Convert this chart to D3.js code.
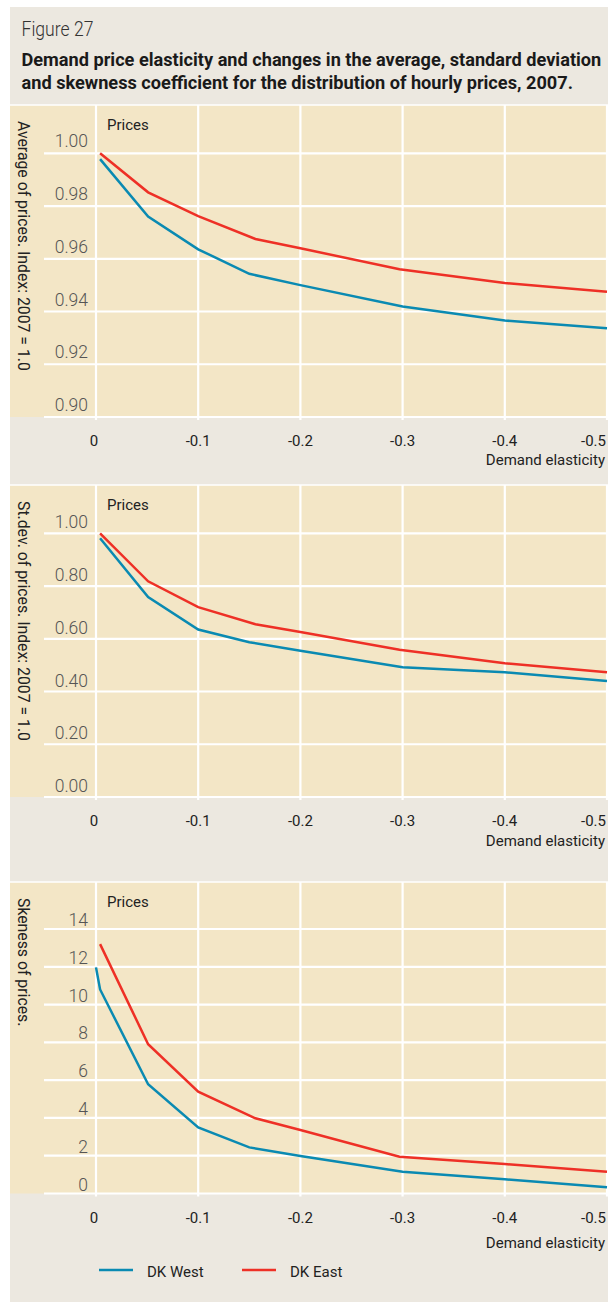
<!DOCTYPE html>
<html>
<head>
<meta charset="utf-8">
<script src="https://cdn.jsdelivr.net/npm/d3@7"></script>
<style>
  body { margin: 0; background: #fff; }
  svg { display: block; font-family: Roboto, "Open Sans", sans-serif; }
</style>
</head>
<body>
<svg id="chart" width="608" height="1302"></svg>
<script>
// demand elasticity (x) for each series
const xWest = [0, -0.004, -0.051, -0.1, -0.15, -0.2, -0.3, -0.4, -0.5]
const xEast = [-0.004, -0.051, -0.1, -0.156, -0.2, -0.297, -0.4, -0.5]

// panel 1: average of prices (index 2007 = 1.0)
const avgWest = [null, 0.9978, 0.976, 0.9636, 0.9543, 0.950, 0.9419, 0.9366, 0.9337]
const avgEast = [1.000, 0.9852, 0.9762, 0.9675, 0.964, 0.956, 0.9508, 0.9475]
// panel 2: st.dev. of prices (index 2007 = 1.0)
const sdWest = [null, 0.981, 0.758, 0.635, 0.587, 0.555, 0.492, 0.473, 0.44]
const sdEast = [1.00, 0.818, 0.72, 0.655, 0.626, 0.558, 0.507, 0.473]
// panel 3: skewness of prices
const skWest = [11.97, 10.8, 5.78, 3.5, 2.44, 1.98, 1.15, 0.75, 0.33]
const skEast = [13.2, 7.9, 5.39, 3.98, 3.36, 1.95, 1.56, 1.15]

const xTicks = [0, -0.1, -0.2, -0.3, -0.4, -0.5]
const xTickLabels = ['0', '-0.1', '-0.2', '-0.3', '-0.4', '-0.5']
const avgTicks = [0.90, 0.92, 0.94, 0.96, 0.98, 1.00]
const sdTicks = [0, 0.2, 0.4, 0.6, 0.8, 1.0]
const skTicks = [0, 2, 4, 6, 8, 10, 12, 14]

const seriesNames = ['DK West', 'DK East']
const colors = { west: '#0a8ab2', east: '#ee3026' }

const panels = [
  { top: 105, bottom: 417, yMax: 153.3, domain: [0.90, 1.00], ticks: avgTicks, fmt: d3.format('.2f'),
    title: 'Average of prices. Index: 2007 = 1.0', west: avgWest, east: avgEast, labGap: 6, xlab: 48 },
  { top: 485, bottom: 797, yMax: 533.3, domain: [0, 1], ticks: sdTicks, fmt: d3.format('.2f'),
    title: 'St.dev. of prices. Index: 2007 = 1.0', west: sdWest, east: sdEast, labGap: 5, xlab: 49 },
  { top: 882, bottom: 1193.5, yMax: 929, domain: [0, 14], ticks: skTicks, fmt: d3.format('d'),
    title: 'Skeness of prices.', west: skWest, east: skEast, labGap: 3, xlab: 54 }
]

const svg = d3.select('#chart')

// grey page background
svg.append('rect').attr('x', 10).attr('y', 7).attr('width', 598).attr('height', 1295).attr('fill', '#ece8e0')

// original font is narrow, so squeeze the heading horizontally to the same width
function narrowText(x, y, size, weight, width, str) {
  const t = svg.append('text')
    .attr('font-size', size).attr('font-weight', weight).attr('fill', weight > 400 ? '#1a1a1a' : '#333')
    .text(str)
  const k = width / t.node().getComputedTextLength()
  t.attr('transform', `translate(${x}, ${y}) scale(${k}, 1)`)
}
narrowText(21.5, 36, 19.5, 300, 72, 'Figure 27')
narrowText(21.5, 66, 18.5, 700, 580, 'Demand price elasticity and changes in the average, standard deviation')
narrowText(21.5, 88.5, 18.5, 700, 552, 'and skewness coefficient for the distribution of hourly prices, 2007.')

const xScale = d3.scaleLinear().domain([0, -0.5]).range([96, 607])

panels.forEach(function(p) {
  const yScale = d3.scaleLinear().domain(p.domain).range([p.bottom, p.yMax])
  const g = svg.append('g')

  g.append('rect').attr('x', 10).attr('y', p.top).attr('width', 598)
    .attr('height', p.bottom - p.top).attr('fill', '#f3e6c6')
  g.append('line').attr('x1', 10).attr('x2', 608).attr('y1', p.top).attr('y2', p.top)
    .attr('stroke', '#fff').attr('stroke-width', 1.5)

  // horizontal grid + tick labels (labels sit just above their line)
  g.selectAll('.hgrid').data(p.ticks).enter().append('line')
    .attr('x1', 44).attr('x2', 608)
    .attr('y1', d => yScale(d)).attr('y2', d => yScale(d))
    .attr('stroke', '#fff').attr('stroke-width', 2.2)
  g.selectAll('.ylab').data(p.ticks).enter().append('text')
    .attr('x', 88).attr('y', d => yScale(d) - p.labGap)
    .attr('text-anchor', 'end').attr('font-size', 17.5).attr('font-weight', 300).attr('fill', '#555')
    .text(d => p.fmt(d))

  // vertical grid
  g.selectAll('.vgrid').data(xTicks).enter().append('line')
    .attr('x1', d => xScale(d)).attr('x2', d => xScale(d))
    .attr('y1', p.top).attr('y2', p.bottom + 3)
    .attr('stroke', '#fff').attr('stroke-width', 2.2)

  // the last label is pulled in so it stays on the page
  g.selectAll('.xlab').data(xTicks).enter().append('text')
    .attr('x', (d, i) => i === 0 ? xScale(d) - 2 : (i === xTicks.length - 1 ? 606 : xScale(d)))
    .attr('y', p.bottom + 29)
    .attr('text-anchor', (d, i) => i === xTicks.length - 1 ? 'end' : 'middle')
    .attr('font-size', 15).attr('fill', '#222')
    .text((d, i) => xTickLabels[i])
  g.append('text').attr('x', 605).attr('y', p.bottom + p.xlab)
    .attr('text-anchor', 'end').attr('font-size', 15).attr('fill', '#222').text('Demand elasticity')

  g.append('text').attr('x', 107).attr('y', p.top + 25)
    .attr('font-size', 15).attr('fill', '#222').text('Prices')

  g.append('text').attr('transform', `translate(18, ${p.top + 16}) rotate(90)`)
    .attr('font-size', 15.8).attr('fill', '#222').text(p.title)

  const line = d3.line().defined(d => d[1] != null)
    .x(d => xScale(d[0])).y(d => yScale(d[1]))
  g.append('path').datum(xWest.map((x, i) => [x, p.west[i]]))
    .attr('d', line).attr('fill', 'none').attr('stroke', colors.west).attr('stroke-width', 2.5)
  g.append('path').datum(xEast.map((x, i) => [x, p.east[i]]))
    .attr('d', line).attr('fill', 'none').attr('stroke', colors.east).attr('stroke-width', 2.5)
})

// legend
const legend = svg.append('g').attr('transform', 'translate(99, 1270)')
seriesNames.forEach(function(name, i) {
  const lg = legend.append('g').attr('transform', `translate(${i * 143}, 0)`)
  lg.append('line').attr('x1', 0).attr('x2', 34).attr('y1', 0).attr('y2', 0)
    .attr('stroke', i === 0 ? colors.west : colors.east).attr('stroke-width', 2.5)
  lg.append('text').attr('x', 48).attr('y', 7).attr('font-size', 15).attr('fill', '#222').text(name)
})
</script>
</body>
</html>
